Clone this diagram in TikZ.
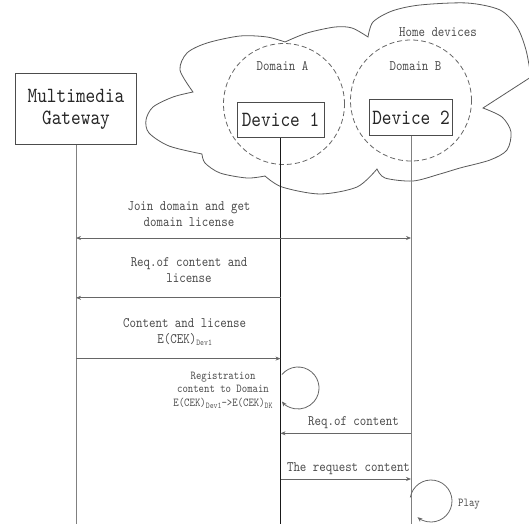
\documentclass[tikz,border=0pt]{standalone}
\usepackage{fontspec}
\newfontfamily\simfont[FakeStretch=0.85]{lmmono10-regular.otf}
\usetikzlibrary{arrows.meta, positioning}
\newcommand{\bigfont}{\simfont\fontsize{21.7}{22}\selectfont}
\newcommand{\midfont}{\simfont\fontsize{14.5}{16}\selectfont}
\newcommand{\smallfont}{\simfont\fontsize{12.1}{13.5}\selectfont}
\newcommand{\lowtext}[1]{\raisebox{-2.5pt}{\fontsize{8.8}{8.8}\selectfont #1}}
\tikzstyle{entity} = [rectangle, draw=black!70, line width=1pt, text=black!85, font=\bigfont, align=center, inner sep=0pt]
\tikzstyle{domcircle} = [circle, draw=black!60, dash pattern=on 5pt off 3pt, line width=0.8pt, minimum size=121pt, inner sep=0pt]
\tikzstyle{msgtext} = [text=black!70, font=\midfont, align=center, inner sep=0pt]
\tikzstyle{lifeline} = [draw=black!50, line width=1pt]
\tikzstyle{msg} = [draw=black!60, line width=0.8pt, -{Stealth[length=5pt, width=4pt]}]
\tikzstyle{cloudline} = [draw=black!65, line width=0.8pt]

\begin{document}
\begin{tikzpicture}[x=1pt, y=-1pt]
\clip (0,0) rectangle (529,524);

% Cloud
\draw [cloudline] plot[smooth] coordinates {(202,154) (169,146) (149,133) (146,120) (153,107) (173,97) (193,92)}
  -- plot[smooth] coordinates {(193,92) (180,70) (187,53) (207,43) (240,36) (267,37) (285,42)}
  -- plot[smooth] coordinates {(285,42) (307,33) (335,27) (352,28) (368,37)}
  -- plot[smooth] coordinates {(368,37) (373,22) (392,11) (420,5) (467,3) (500,10) (517,27) (526,50) (531,77)}
  -- (483,108)
  -- plot[smooth] coordinates {(483,108) (502,117) (511,132) (507,150) (490,160) (460,168) (440,174) (413,181) (385,178) (377,169)}
  -- plot[smooth] coordinates {(377,169) (357,187) (320,194) (282,187) (265,176)}
  -- plot[smooth] coordinates {(265,176) (247,178) (220,173) (205,163) (202,154)};

% Nodes
\node (doma) [domcircle] at (284,104) {};
\node (domb) [domcircle] at (411,100.5) {};
\node (homelbl) [msgtext] at (438,32) {Home devices};
\node (domalbl) [msgtext] at (282.5,66.5) {Domain A};
\node (domblbl) [msgtext] at (415.5,66) {Domain B};
\node (gw) [entity, minimum width=121pt, minimum height=71pt] at (76,109.3) {Multimedia\\Gateway};
\node (dev1) [entity, minimum width=87pt, minimum height=35pt] at (280.5,119.8) {Device 1};
\node (dev2) [entity, minimum width=83pt, minimum height=35pt] at (411,117.5) {Device 2};

% Lifelines
\coordinate (gwend) at (76,524);
\coordinate (dev1end) at (280.5,524);
\coordinate (dev2end) at (411,524);
\draw [lifeline] (gw.south) -- (gwend);
\draw [lifeline, draw=black!90, line width=0.8pt] (dev1.south) -- (dev1end);
\draw [lifeline] (dev2.south) -- (dev2end);

% Points on lifelines
\coordinate (gwjoin) at (76,238);
\coordinate (dev2join) at (411,238);
\coordinate (gwreq) at (76,297.8);
\coordinate (dev1req) at (280.5,297.8);
\coordinate (gwcont) at (76,358.6);
\coordinate (dev1cont) at (280.5,358.6);
\coordinate (dev1ask) at (280.5,433.3);
\coordinate (dev2ask) at (411,433.3);
\coordinate (dev1give) at (280.5,479);
\coordinate (dev2give) at (411,479);
\coordinate (dev1reg) at (298,388);
\coordinate (dev2play) at (431,501);

% Arrows
\draw [msg, {Stealth[length=5pt, width=4pt]}-{Stealth[length=5pt, width=4pt]}] (gwjoin) -- (dev2join);
\draw [msg] (dev1req) -- (gwreq);
\draw [msg] (gwcont) -- (dev1cont);
\draw [msg] (dev1reg) ++(-140:21) arc[start angle=-140, end angle=140, radius=21];
\draw [msg] (dev2ask) -- (dev1ask);
\draw [msg] (dev1give) -- (dev2give);
\draw [msg] (dev2play) ++(190:21) arc[start angle=190, end angle=490, radius=21];

% Labels
\node (joinlbl) [msgtext] at (189,214.6) {Join domain and get\\domain license};
\node (reqlbl) [msgtext] at (189,270) {Req.of content and\\license};
\node (contlbl) [msgtext] at (184.7,332) {Content and license\\E(CEK)\lowtext{Dev1}};
\node (reglbl) [msgtext, font=\smallfont] at (223,390.5) {Registration\\content to Domain\\E(CEK)\lowtext{Dev1}->E(CEK)\lowtext{DK}};
\node (asklbl) [msgtext] at (353.5,422.3) {Req.of content};
\node (givelbl) [msgtext] at (348.5,468.3) {The request content};
\node (playlbl) [msgtext, font=\smallfont] at (469,504) {Play};

\end{tikzpicture}
\end{document}
